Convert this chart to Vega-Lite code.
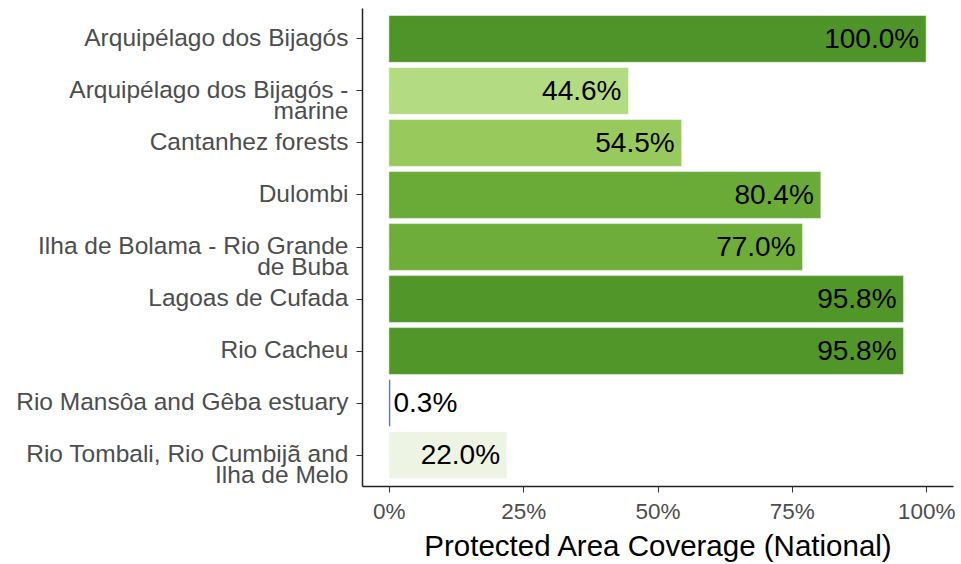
{
  "$schema": "https://vega.github.io/schema/vega-lite/v6.json",
  "width": 591,
  "height": 478,
  "autosize": "none",
  "padding": {"left": 362, "top": 8, "right": 8, "bottom": 78},
  "background": "white",
  "config": {
    "view": {"stroke": null},
    "font": "Liberation Sans"
  },
  "data": {
    "values": [
      {"name": "Arquipélago dos Bijagós", "value": 100.0, "label": "100.0%"},
      {"name": "Arquipélago dos Bijagós -\nmarine", "value": 44.6, "label": "44.6%"},
      {"name": "Cantanhez forests", "value": 54.5, "label": "54.5%"},
      {"name": "Dulombi", "value": 80.4, "label": "80.4%"},
      {"name": "Ilha de Bolama - Rio Grande\nde Buba", "value": 77.0, "label": "77.0%"},
      {"name": "Lagoas de Cufada", "value": 95.8, "label": "95.8%"},
      {"name": "Rio Cacheu", "value": 95.8, "label": "95.8%"},
      {"name": "Rio Mansôa and Gêba estuary", "value": 0.3, "label": "0.3%"},
      {"name": "Rio Tombali, Rio Cumbijã and\nIlha de Melo", "value": 22.0, "label": "22.0%"}
    ]
  },
  "encoding": {
    "y": {
      "field": "name",
      "type": "nominal",
      "sort": null,
      "scale": {"paddingInner": 0.1, "paddingOuter": 0.145},
      "axis": {
        "title": null,
        "labelExpr": "split(datum.label, '\\n')",
        "labelFontSize": 24.5,
        "labelColor": "#4d4d4d",
        "labelLimit": 400,
        "labelPadding": 8,
        "labelLineHeight": 21,
        "tickSize": 6,
        "tickColor": "#333333",
        "domainColor": "#222222",
        "domainWidth": 1.5,
        "grid": false
      }
    }
  },
  "layer": [
    {
      "mark": {"type": "bar", "stroke": "white", "strokeWidth": 0.5},
      "encoding": {
        "x": {
          "field": "value",
          "type": "quantitative",
          "scale": {"domain": [-5, 105], "nice": false, "zero": false},
          "axis": {
            "values": [0, 25, 50, 75, 100],
            "labelExpr": "datum.value + '%'",
            "title": "Protected Area Coverage (National)",
            "titleFontSize": 29.5,
            "titleFontWeight": "normal",
            "titleColor": "black",
            "titlePadding": 10,
            "labelFontSize": 22.5,
            "labelColor": "#4d4d4d",
            "labelPadding": 8,
            "tickSize": 6,
            "tickColor": "#333333",
            "domainColor": "#222222",
            "domainWidth": 1.5,
            "grid": false
          }
        },
        "x2": {"datum": 0},
        "color": {
          "field": "name",
          "type": "nominal",
          "sort": null,
          "legend": null,
          "scale": {
            "range": ["#4f9428", "#b3dc82", "#98c95c", "#6aaa37", "#6fad3a", "#519629", "#519629", "#3d5a96", "#eef4e4"]
          }
        }
      }
    },
    {
      "transform": [{"filter": "datum.value >= 5"}],
      "mark": {"type": "text", "align": "right", "baseline": "middle", "dx": -7, "dy": 1, "fontSize": 28, "color": "black"},
      "encoding": {
        "x": {"field": "value", "type": "quantitative"},
        "text": {"field": "label"}
      }
    },
    {
      "transform": [{"filter": "datum.value < 5"}],
      "mark": {"type": "text", "align": "left", "baseline": "middle", "dx": 3, "dy": 1, "fontSize": 28, "color": "black"},
      "encoding": {
        "x": {"field": "value", "type": "quantitative"},
        "text": {"field": "label"}
      }
    }
  ]
}
